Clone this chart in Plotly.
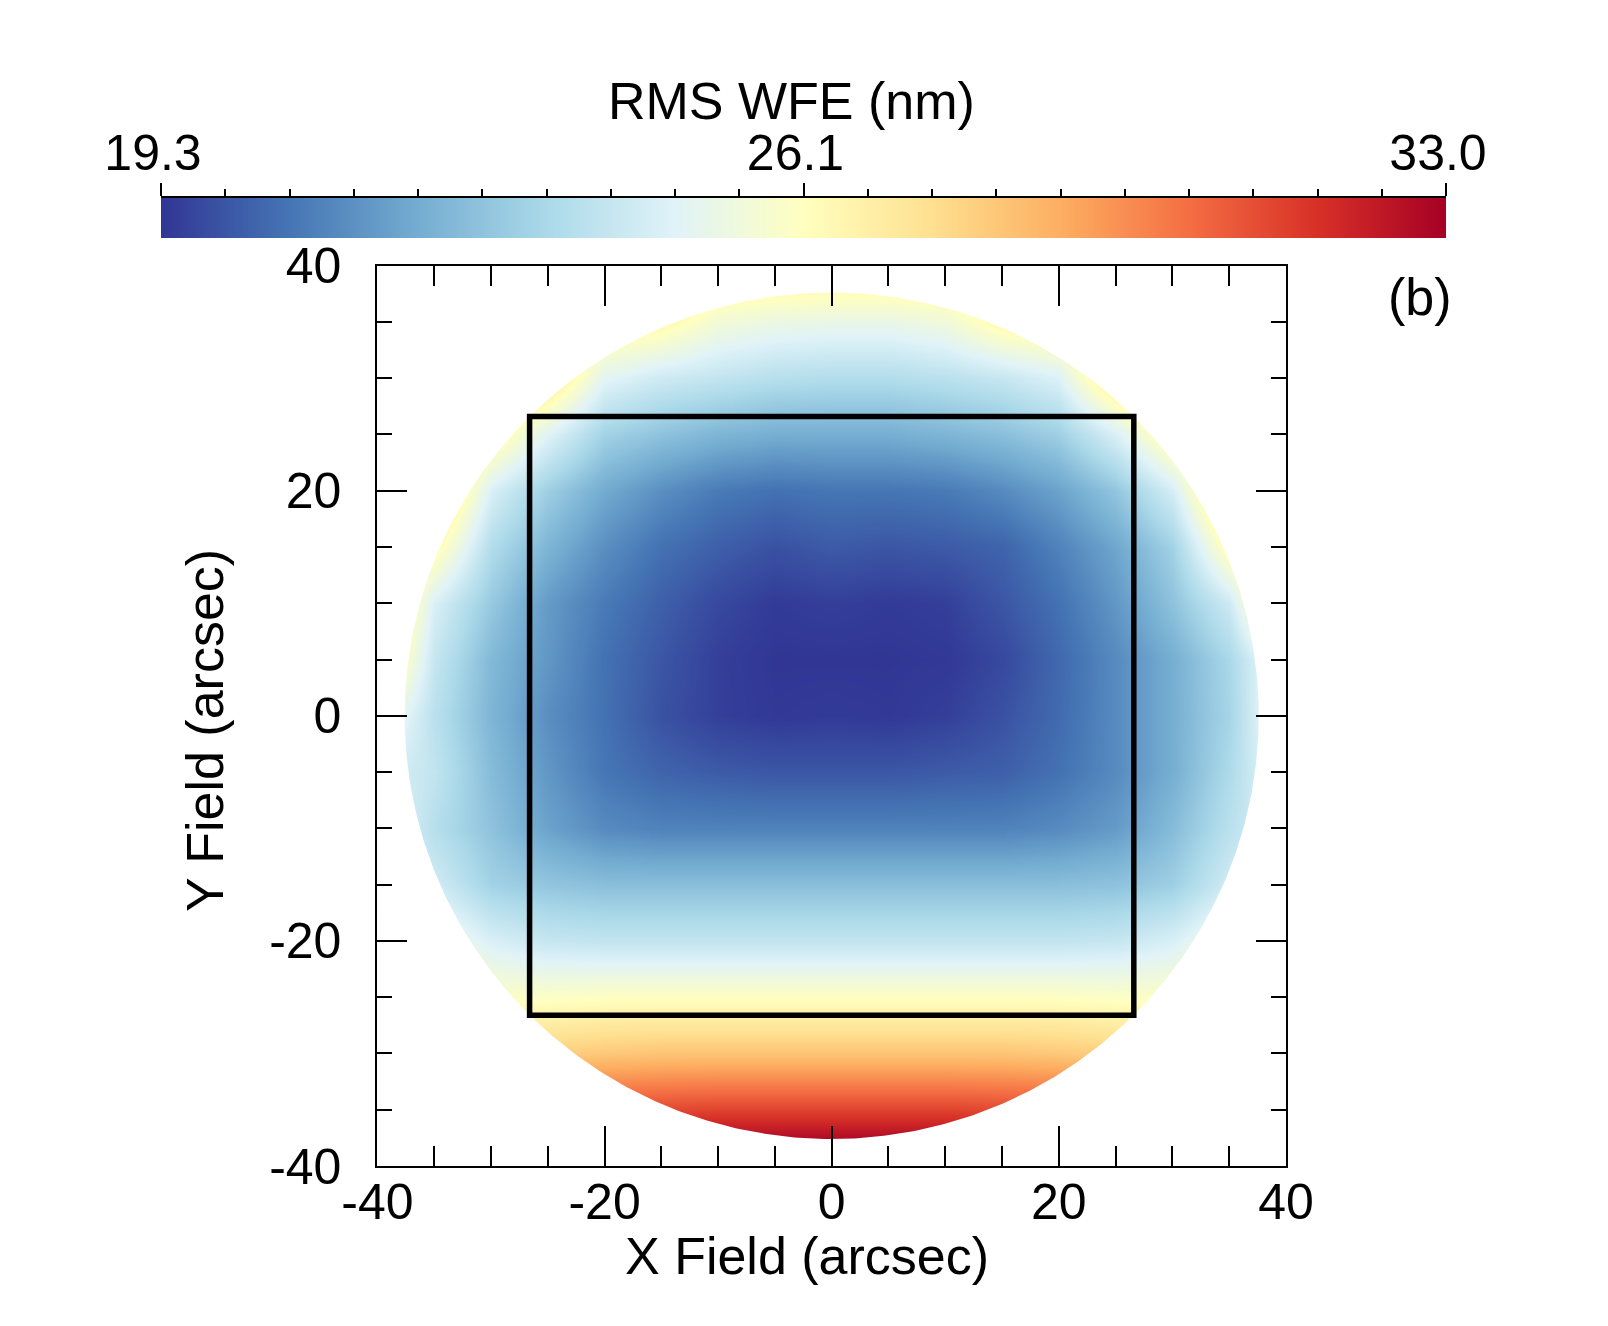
import numpy as np
import plotly.graph_objects as go

# ---------------- data ----------------
x_field = [-40, -35, -30, -25, -20, -15, -10, -5, 0, 5, 10, 15, 20, 25, 30, 35, 40]
y_field = [-40, -35, -30, -25, -20, -15, -10, -5, 0, 5, 10, 15, 20, 25, 30, 35, 40]
N = None
# RMS WFE (nm); rows follow y_field (bottom to top), columns follow x_field
rms_wfe = [
    [N, N, N, N, N, 34.0, 34.1, 34.1, 34.1, 34.1, 34.1, 34.0, N, N, N, N, N],
    [N, N, N, 30.8, 31.0, 31.1, 31.2, 31.2, 31.2, 31.2, 31.2, 31.1, 31.0, 30.8, N, N, N],
    [N, N, 28.0, 28.0, 28.2, 28.3, 28.3, 28.3, 28.3, 28.3, 28.3, 28.3, 28.2, 28.0, 28.0, N, N],
    [N, 26.3, 26.0, 26.0, 26.1, 26.1, 26.1, 26.1, 26.1, 26.1, 26.1, 26.1, 26.1, 26.0, 26.0, 26.3, N],
    [N, 25.7, 24.6, 24.1, 24.0, 24.0, 24.0, 24.0, 24.0, 24.0, 24.0, 24.0, 24.0, 24.1, 24.6, 25.7, N],
    [25.0, 24.4, 23.2, 22.8, 22.6, 22.6, 22.6, 22.6, 22.6, 22.6, 22.6, 22.6, 22.6, 22.7, 23.1, 24.4, 25.0],
    [25.4, 23.7, 22.7, 21.8, 21.2, 21.0, 21.0, 21.0, 21.0, 21.0, 21.0, 21.0, 21.2, 21.6, 22.5, 23.8, 25.0],
    [24.7, 24.0, 22.5, 21.5, 20.7, 20.3, 20.1, 20.0, 20.0, 20.0, 20.1, 20.2, 20.6, 21.2, 22.1, 23.5, 25.5],
    [25.9, 23.8, 22.3, 21.3, 20.6, 19.9, 19.5, 19.35, 19.4, 19.35, 19.5, 19.9, 20.45, 21.2, 22.1, 23.3, 26.0],
    [27.8, 24.1, 22.4, 21.5, 20.6, 20.0, 19.5, 19.3, 19.3, 19.3, 19.35, 19.7, 20.4, 21.2, 22.1, 23.4, 26.0],
    [28.5, 24.6, 22.9, 21.6, 20.8, 20.2, 19.7, 19.4, 19.5, 19.4, 19.5, 20.0, 20.6, 21.5, 22.7, 24.3, 28.5],
    [27.5, 26.5, 23.6, 22.3, 21.3, 20.6, 20.2, 19.9, 20.1, 20.0, 20.1, 20.3, 21.0, 21.9, 23.2, 26.5, 27.5],
    [N, 28.3, 24.6, 23.1, 22.0, 21.3, 20.8, 20.6, 20.7, 20.7, 20.8, 21.2, 21.8, 22.8, 24.5, 28.3, N],
    [N, 27.3, 26.8, 24.8, 23.2, 22.7, 22.3, 22.1, 22.1, 22.1, 22.3, 22.6, 23.1, 24.6, 26.8, 27.3, N],
    [N, N, 27.6, 27.5, 24.9, 24.3, 24.0, 23.7, 23.6, 23.6, 23.8, 24.1, 24.7, 27.5, 27.6, N, N],
    [N, N, N, 27.3, 26.9, 26.6, 25.6, 25.3, 25.2, 25.2, 25.5, 26.6, 26.9, 27.3, N, N, N],
    [N, N, N, N, N, 27.3, 27.3, 27.3, 27.3, 27.3, 27.3, 27.3, N, N, N, N, N],
]

cbar_range = [19.3, 33.0]
cbar_tickvals = [19.3, 26.15, 33.0]
cbar_ticktext = ["19.3", "26.1", "33.0"]
cbar_minor_step = 0.685

axis_tickvals = [-40, -20, 0, 20, 40]
axis_ticktext = ["-40", "-20", "0", "20", "40"]

field_radius = 37.6      # arcsec, edge of the circular field
fov_half = 26.6          # arcsec, half-width of the square FOV box

FONT = "Liberation Sans, Arial, sans-serif"

# ---------------- figure ----------------
fig = go.Figure()

fig.add_trace(go.Heatmap(
    x=x_field, y=y_field, z=rms_wfe, coloraxis="coloraxis",
    zsmooth="best", hoverinfo="skip", xaxis="x", yaxis="y",
))

# white mask outside the circular field (square outline, then circle in the opposite sense)
sq_x = [-45, -45, 45, 45, -45]
sq_y = [-45, 45, 45, -45, -45]
th = np.deg2rad(np.linspace(225, 225 + 360, 721))
mask_x = sq_x + list(field_radius * np.cos(th))
mask_y = sq_y + list(field_radius * np.sin(th))
fig.add_trace(go.Scatter(
    x=mask_x, y=mask_y, mode="lines", fill="toself", fillcolor="white",
    line=dict(width=0, color="white"), hoverinfo="skip", showlegend=False,
    xaxis="x", yaxis="y",
))

# colour bar drawn as its own strip
fig.add_trace(go.Heatmap(
    x=cbar_range, y=[0, 1], z=[cbar_range, cbar_range], coloraxis="coloraxis",
    zsmooth="best", hoverinfo="skip", xaxis="x2", yaxis="y2",
))

L, R, T, B = 161, 162, 198, 160
W, H = 1608, 1326
pw, ph = W - L - R, H - T - B


def px(xp):
    return (xp - L) / pw


def py(yp):
    return (H - B - yp) / ph


axis_common = dict(
    range=[-40, 40], showline=True, linecolor="black", linewidth=2, mirror="ticks",
    ticks="inside", tickwidth=2, tickcolor="black", tickmode="array",
    tickvals=axis_tickvals, ticktext=axis_ticktext,
    tickfont=dict(size=50, color="black", family=FONT),
    showgrid=False, zeroline=False, fixedrange=True,
)

fig.update_layout(
    width=W, height=H,
    margin=dict(l=L, r=R, t=T, b=B, autoexpand=False),
    paper_bgcolor="white", plot_bgcolor="white",
    font=dict(family=FONT, color="black", size=50),
    showlegend=False,
    coloraxis=dict(colorscale="RdYlBu_r", cmin=cbar_range[0], cmax=cbar_range[1], showscale=False),
    xaxis=dict(
        domain=[px(377.4), px(1286)], anchor="y", ticklen=40,
        minor=dict(tickmode="linear", tick0=0, dtick=5, ticks="inside", ticklen=20,
                   tickwidth=2, tickcolor="black"),
        ticklabelstandoff=-9,
        **axis_common,
    ),
    yaxis=dict(
        domain=[0, py(265.6)], anchor="x", ticklen=30,
        minor=dict(tickmode="linear", tick0=0, dtick=5, ticks="inside", ticklen=15,
                   tickwidth=2, tickcolor="black"),
        ticklabelstandoff=24,
        **axis_common,
    ),
    xaxis2=dict(
        domain=[0, 1], anchor="y2", side="top", range=cbar_range,
        tickmode="array", tickvals=cbar_tickvals, ticktext=cbar_ticktext,
        ticks="outside", ticklen=13, tickwidth=2, tickcolor="black",
        minor=dict(tickmode="linear", tick0=cbar_range[0], dtick=cbar_minor_step,
                   ticks="outside", ticklen=7, tickwidth=2, tickcolor="black"),
        showline=True, linecolor="black", linewidth=2,
        tickfont=dict(size=50, color="black", family=FONT),
        ticklabelshift=-8, ticklabelstandoff=-7,
        showgrid=False, zeroline=False, fixedrange=True,
    ),
    yaxis2=dict(domain=[py(238), 1], anchor="x2", range=[0, 1], visible=False, fixedrange=True),
    shapes=[dict(
        type="rect", xref="x", yref="y", x0=-fov_half, x1=fov_half, y0=-fov_half, y1=fov_half,
        line=dict(color="black", width=5.5), fillcolor="rgba(0,0,0,0)", layer="above",
    )],
    annotations=[
        dict(text="RMS WFE (nm)", xref="paper", yref="paper", x=px(791), y=py(101),
             xanchor="center", yanchor="middle", showarrow=False,
             font=dict(size=52, color="black", family=FONT)),
        dict(text="X Field (arcsec)", xref="paper", yref="paper", x=px(807), y=py(1256),
             xanchor="center", yanchor="middle", showarrow=False,
             font=dict(size=52, color="black", family=FONT)),
        dict(text="Y Field (arcsec)", xref="paper", yref="paper", x=px(205), y=py(731),
             xanchor="center", yanchor="middle", showarrow=False, textangle=-90,
             font=dict(size=52, color="black", family=FONT)),
        dict(text="(b)", xref="paper", yref="paper", x=px(1420), y=py(297),
             xanchor="center", yanchor="middle", showarrow=False,
             font=dict(size=52, color="black", family=FONT)),
    ],
)

fig.write_html("out.html")
